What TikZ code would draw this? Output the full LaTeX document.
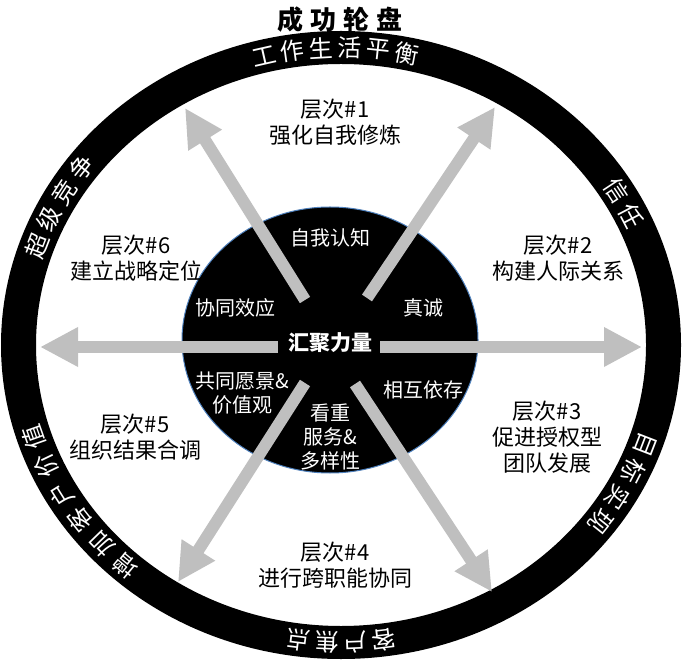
\documentclass[tikz,border=0pt]{standalone}
\usepackage{fontspec}
\setmainfont{Noto Sans CJK SC}
\usepackage{tikz}
\usetikzlibrary{arrows.meta}
\definecolor{spoke-gray}{RGB}{191,191,191}
\definecolor{hub-blue}{RGB}{79,129,189}

% characters set one by one round the ring: mid angle, step, count, list
\newcommand{\ringword}[4]{%
  \foreach \ch [count=\i] in {#4} {
    \pgfmathsetmacro\ringang{#1-(\i-(#3+1)/2)*#2}
    \pgfmathsetmacro\ringrot{atan2(-297.5*cos(\ringang),322.5*sin(\ringang))}
    \node[ring-char,rotate=\ringrot] (w#1c\i) at ({341+322.5*cos(\ringang)},{319+297.5*sin(\ringang)}) {\ch};
  }}

\begin{document}
\begin{tikzpicture}[x=1pt,y=1pt]
		\tikzstyle{ring-char}=[text=white,inner sep=0pt,font=\fontsize{24}{24}\selectfont]
		\tikzstyle{level-node}=[align=center,font=\fontsize{22}{26}\selectfont]
		\tikzstyle{core-node}=[align=center,text=white,font=\fontsize{20}{24}\selectfont]
		\tikzstyle{spoke}=[-{Triangle[width=37pt,length=38pt]},line width=12pt,color=spoke-gray]
		\useasboundingbox (0,0) rectangle (684,664);
		% outer ring
		\fill [black,even odd rule] (341,319) ellipse (340pt and 314pt) (341,319) ellipse (305pt and 281pt);
		\ringword{91}{5.1}{6}{工,作,生,活,平,衡}
		\ringword{28.5}{5.5}{2}{信,任}
		\ringword{-28}{5.6}{4}{目,标,实,现}
		\ringword{-90}{5.1}{4}{客,户,焦,点}
		\ringword{213}{6}{6}{增,加,客,户,价,值}
		\ringword{152}{5.7}{4}{超,级,竞,争}
		\node [font=\fontsize{26}{26}\selectfont\bfseries] at (340,644) (title) {成\hspace{7pt}功\hspace{7pt}轮\hspace{7pt}盘};
		% hub
		\draw [hub-blue,line width=1pt,fill=black] (330,324) ellipse (148pt and 133pt);
		% spokes
		\coordinate (r0) at (380,317); \coordinate (r1) at (642,317);
		\coordinate (l0) at (278,317); \coordinate (l1) at (40,317);
		\coordinate (ul0) at (305,364); \coordinate (ul1) at (185,556);
		\coordinate (ur0) at (367,366); \coordinate (ur1) at (495,557);
		\coordinate (dl0) at (305,281); \coordinate (dl1) at (178,82);
		\coordinate (dr0) at (355,280); \coordinate (dr1) at (492,72);
		\draw [spoke] (r0) -- (r1);
		\draw [spoke] (l0) -- (l1);
		\draw [spoke] (ul0) -- (ul1);
		\draw [spoke] (ur0) -- (ur1);
		\draw [spoke] (dl0) -- (dl1);
		\draw [spoke] (dr0) -- (dr1);
		% core values
		\node [core-node,font=\fontsize{21}{24}\selectfont\bfseries] at (330,321) (hub) {汇聚力量};
		\node [core-node] at (330,426) (c1) {自我认知};
		\node [core-node] at (423,356) (c2) {真诚};
		\node [core-node] at (423,274) (c3) {相互依存};
		\node [core-node] at (330,227) (c4) {看重\\服务\&\\多样性};
		\node [core-node] at (242,271) (c5) {共同愿景\&\\价值观};
		\node [core-node] at (235,356) (c6) {协同效应};
		% levels
		\node [level-node] at (335,542) (n1) {层次\#1\\强化自我修炼};
		\node [level-node] at (558,406) (n2) {层次\#2\\构建人际关系};
		\node [level-node] at (547,227) (n3) {层次\#3\\促进授权型\\团队发展};
		\node [level-node] at (335,99) (n4) {层次\#4\\进行跨职能协同};
		\node [level-node] at (135,227) (n5) {层次\#5\\组织结果合调};
		\node [level-node] at (136,406) (n6) {层次\#6\\建立战略定位};
	\end{tikzpicture}
\end{document}
